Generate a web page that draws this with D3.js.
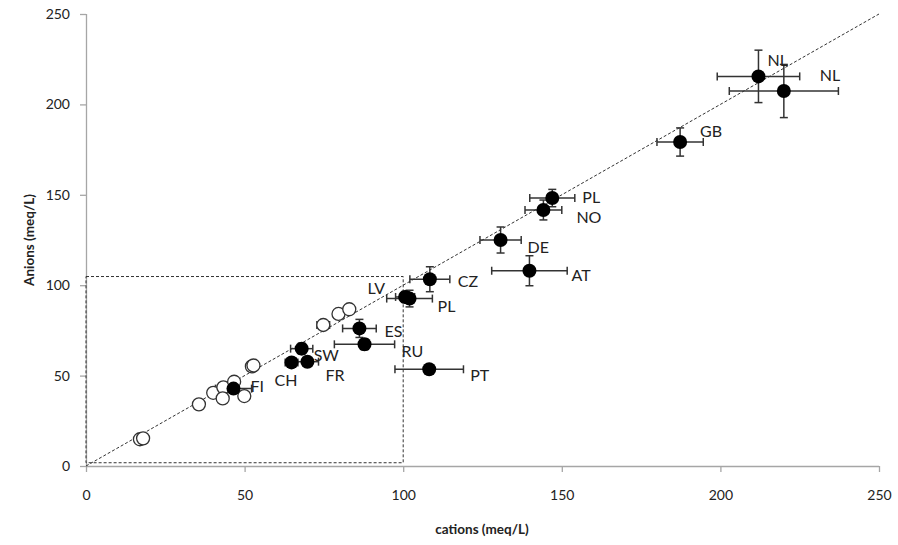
<!DOCTYPE html>
<html>
<head>
<meta charset="utf-8">
<script src="https://cdn.jsdelivr.net/npm/d3@7"></script>
<style>
  body { margin: 0; background: #fff; }
  svg text { font-family: Lato, 'Open Sans', sans-serif; fill: #222; }
</style>
</head>
<body>
<svg id="canvas" width="898" height="545"></svg>
<script>
// labelled samples (filled circles)
let labels = ['NL', 'NL', 'GB', 'PL', 'NO', 'DE', 'AT', 'CZ', 'LV', 'PL', 'ES', 'RU', 'PT', 'SW', 'CH', 'FR', 'FI']
let cations = [212, 220, 187.3, 147, 144.2, 130.7, 139.8, 108.4, 100.6, 102, 86.2, 87.8, 108.2, 68, 64.8, 69.8, 46.5]
let anions = [215.5, 207.4, 179.2, 148.2, 141.6, 125, 108, 103.3, 93.5, 92.6, 76.1, 67.3, 53.5, 64.9, 57.3, 57.7, 42.8]
let cationErr = [13, 17.2, 7.3, 7.1, 5.8, 6.5, 11.9, 6.3, 3, 7.2, 5.3, 9.5, 10.8, 3.5, 2, 3.5, 5.7]
let anionErr = [14.5, 14.7, 7.8, 4.8, 5.5, 7.2, 8.3, 6.9, 3, 4.6, 5, 3, 1, 3, 2, 2, 2.5]

// unlabelled samples (open circles)
let openCations = [17, 18, 35.6, 40.1, 43.3, 46.7, 43.1, 49.9, 52.3, 52.8, 74.8, 79.6, 83]
let openAnions = [14.8, 15.3, 34.1, 40.5, 43.5, 46.6, 37.4, 38.7, 55.1, 55.6, 78, 84.1, 86.7]
let openCationErr = [1, 1, 0, 0, 0, 0, 0, 0, 1.5, 1.5, 2, 1.5, 1.5]
let openAnionErr = [0.5, 0.5, 0, 0, 0, 0, 0, 0, 1, 1, 1.5, 1, 1.5]

let ticks = [0, 50, 100, 150, 200, 250]

// label offsets in px (layout only)
let labelOffsets = [[9, -10], [36, -10], [20, -5], [30, 5], [33, 13], [27, 13], [42, 10], [28, 8], [-20, -3], [28, 13], [25, 9], [37, 13], [41, 12], [12, 12], [-17, 24], [18, 19], [17, 3]]
let labelAnchors = ['start', 'start', 'start', 'start', 'start', 'start', 'start', 'start', 'end', 'start', 'start', 'start', 'start', 'start', 'start', 'start', 'start']

let canvas = d3.select('#canvas')

let xScale = d3.scaleLinear().domain([0, 250]).range([86, 879])
let yScale = d3.scaleLinear().domain([0, 250]).range([466, 14])

// axes
let xAxis = d3.axisBottom(xScale).tickValues(ticks).tickSize(6).tickPadding(18)
let yAxis = d3.axisLeft(yScale).tickValues(ticks).tickSize(6).tickPadding(10)

let gx = canvas.append('g').attr('transform', 'translate(0,466)').call(xAxis)
let gy = canvas.append('g').attr('transform', 'translate(86,0)').call(yAxis)
for (let g of [gx, gy]) {
    g.select('.domain').attr('stroke', '#a6a6a6').attr('stroke-width', 1.3)
    g.selectAll('.tick line').attr('stroke', '#a6a6a6').attr('stroke-width', 1.3)
    g.selectAll('.tick text').style('font-size', '14px').attr('fill', '#222')
}
gx.select('.domain').attr('d', 'M86,0.5H879')
gy.select('.domain').attr('d', 'M0.5,466V14')

canvas.append('text')
    .attr('x', 482).attr('y', 534)
    .attr('text-anchor', 'middle')
    .style('font-size', '13.5px').style('font-weight', 'bold')
    .text('cations (meq/L)')

canvas.append('text')
    .attr('transform', 'translate(34,240) rotate(-90)')
    .attr('text-anchor', 'middle')
    .style('font-size', '13.5px').style('font-weight', 'bold')
    .text('Anions (meq/L)')

// dashed zoom box and 1:1 line
canvas.append('rect')
    .attr('x', xScale(0)).attr('y', yScale(104.8))
    .attr('width', xScale(100) - xScale(0))
    .attr('height', yScale(1.8) - yScale(104.8))
    .attr('fill', 'none').attr('stroke', '#333')
    .attr('stroke-width', 1).attr('stroke-dasharray', '3,2')

canvas.append('line')
    .attr('x1', xScale(0)).attr('y1', yScale(0))
    .attr('x2', xScale(250)).attr('y2', yScale(250))
    .attr('stroke', '#333').attr('stroke-width', 1).attr('stroke-dasharray', '3,2')

let drawErrors = (xs, ys, xe, ye) => {
    let g = canvas.append('g').attr('stroke', '#333').attr('stroke-width', 1.5)
    xs.forEach((c, i) => {
        let cx = xScale(c), cy = yScale(ys[i])
        if (xe[i] > 0) {
            let x1 = xScale(c - xe[i]), x2 = xScale(c + xe[i])
            g.append('line').attr('x1', x1).attr('x2', x2).attr('y1', cy).attr('y2', cy)
            g.append('line').attr('x1', x1).attr('x2', x1).attr('y1', cy - 4).attr('y2', cy + 4)
            g.append('line').attr('x1', x2).attr('x2', x2).attr('y1', cy - 4).attr('y2', cy + 4)
        }
        if (ye[i] > 0) {
            let y1 = yScale(ys[i] - ye[i]), y2 = yScale(ys[i] + ye[i])
            g.append('line').attr('x1', cx).attr('x2', cx).attr('y1', y1).attr('y2', y2)
            g.append('line').attr('x1', cx - 4).attr('x2', cx + 4).attr('y1', y1).attr('y2', y1)
            g.append('line').attr('x1', cx - 4).attr('x2', cx + 4).attr('y1', y2).attr('y2', y2)
        }
    })
}

drawErrors(openCations, openAnions, openCationErr, openAnionErr)
drawErrors(cations, anions, cationErr, anionErr)

canvas.selectAll('circle.open')
    .data(openCations)
    .enter()
    .append('circle')
    .attr('class', 'open')
    .attr('cx', (d) => xScale(d))
    .attr('cy', (d, i) => yScale(openAnions[i]))
    .attr('r', 6.5)
    .attr('fill', '#fff')
    .attr('stroke', '#333')
    .attr('stroke-width', 1.3)

canvas.selectAll('circle.filled')
    .data(cations)
    .enter()
    .append('circle')
    .attr('class', 'filled')
    .attr('cx', (d) => xScale(d))
    .attr('cy', (d, i) => yScale(anions[i]))
    .attr('r', 7)
    .attr('fill', '#000')

canvas.selectAll('text.lbl')
    .data(labels)
    .enter()
    .append('text')
    .attr('class', 'lbl')
    .attr('x', (d, i) => xScale(cations[i]) + labelOffsets[i][0])
    .attr('y', (d, i) => yScale(anions[i]) + labelOffsets[i][1])
    .attr('text-anchor', (d, i) => labelAnchors[i])
    .style('font-size', '16px')
    .text((d) => d)
</script>
</body>
</html>
